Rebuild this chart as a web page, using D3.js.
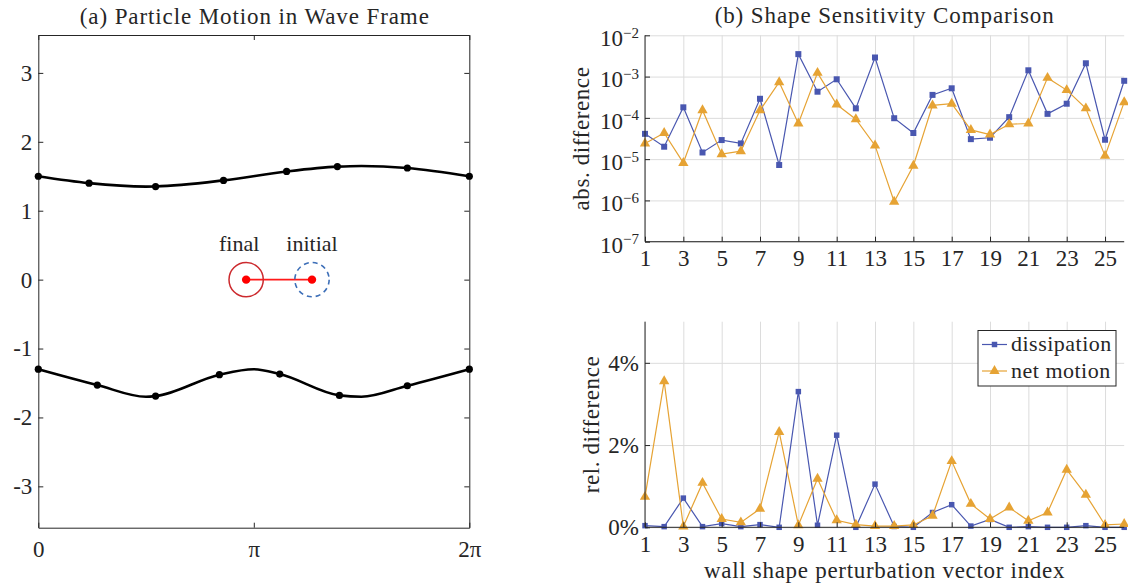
<!DOCTYPE html>
<html>
<head>
<meta charset="utf-8">
<script src="https://cdn.jsdelivr.net/npm/d3@7"></script>
<style>
  body { margin: 0; background: #fff; }
  svg, svg text { font-family: "Liberation Serif", "DejaVu Serif", serif; fill: #262626; }
  .grid line { stroke: #dcdcdc; stroke-width: 1; }
  .grid path { display: none; }
  .ax path, .ax line { stroke: #262626; stroke-width: 1; }
</style>
</head>
<body>
<svg id="fig" width="1128" height="588"></svg>
<script>
// ---- panel (a): walls in the wave frame ----
const TWO_PI = 2 * Math.PI;
const upperWallX = [0, 0.74, 1.57, 1.71, 2.70, 3.62, 4.36, 4.71, 5.38, TWO_PI];
const upperWallY = [1.50, 1.40, 1.35, 1.352, 1.44, 1.57, 1.64, 1.65, 1.62, 1.50];
const upperNodeX = [0, 0.74, 1.71, 2.70, 3.62, 4.36, 5.38, TWO_PI];
const upperNodeY = [1.50, 1.40, 1.35, 1.44, 1.57, 1.64, 1.62, 1.50];
const lowerWallX = [0, 0.86, 1.57, 1.71, 2.64, 3.14, 3.52, 4.39, 4.71, 5.38, TWO_PI];
const lowerWallY = [-1.30, -1.53, -1.70, -1.69, -1.38, -1.30, -1.37, -1.68, -1.70, -1.54, -1.30];
const lowerNodeX = [0, 0.86, 1.71, 2.64, 3.52, 4.39, 5.38, TWO_PI];
const lowerNodeY = [-1.30, -1.53, -1.69, -1.38, -1.37, -1.68, -1.54, -1.30];
const particleNames = ["final", "initial"];
const particleX = [3.03, 3.99];
const particleY = [0, 0];
const particleR = 0.25;
const aYTicks = [-3, -2, -1, 0, 1, 2, 3];
const aXTicks = [0, Math.PI, TWO_PI];
const aXLabels = ["0", "π", "2π"];

// ---- panel (b): sensitivity comparison ----
const vecIndex = d3.range(1, 27);
const dissAbs = [4.1e-5, 2.0e-5, 1.8e-4, 1.45e-5, 2.9e-5, 2.4e-5, 2.9e-4, 7.2e-6, 3.5e-3, 4.3e-4,
                 8.6e-4, 1.7e-4, 2.9e-3, 9.8e-5, 4.3e-5, 3.6e-4, 5.2e-4, 3.05e-5, 3.3e-5, 1.04e-4,
                 1.42e-3, 1.25e-4, 2.2e-4, 2.1e-3, 2.95e-5, 7.9e-4];
const motionAbs = [2.4e-5, 4.3e-5, 8.1e-6, 1.53e-4, 1.32e-5, 1.56e-5, 1.53e-4, 7.3e-4, 7.3e-5, 1.23e-3,
                   2.1e-4, 9.3e-5, 2.15e-5, 9.3e-7, 6.9e-6, 2.0e-4, 2.2e-4, 5.1e-5, 3.95e-5, 7.0e-5,
                   7.3e-5, 9.3e-4, 4.7e-4, 1.7e-4, 1.2e-5, 2.4e-4];
const dissRel = [0.04, 0.016, 0.71, 0.016, 0.09, 0.016, 0.065, 0.0, 3.30, 0.05,
                 2.24, 0.0, 1.05, 0.02, 0.0, 0.36, 0.55, 0.03, 0.19, 0.0,
                 0.016, 0.0, 0.0, 0.04, 0.0, 0.0];
const motionRel = [0.74, 3.55, 0.02, 1.08, 0.20, 0.12, 0.45, 2.32, 0.05, 1.18,
                   0.17, 0.065, 0.03, 0.03, 0.057, 0.28, 1.61, 0.57, 0.20, 0.48,
                   0.16, 0.36, 1.40, 0.79, 0.057, 0.08];
const bXTicks = d3.range(1, 26, 2);
const absTicks = [1e-7, 1e-6, 1e-5, 1e-4, 1e-3, 1e-2];
const relTicks = [0, 2, 4];
const seriesNames = ["dissipation", "net motion"];

const blue = "#4957b0", orange = "#e6a334";
const SERIF = "'Liberation Serif', 'DejaVu Serif', serif";
const svg = d3.select("#fig");

// every text gets the serif face explicitly (axis groups default to sans-serif)
function serif(sel, size) {
  return sel.style("font-family", SERIF).style("font-size", size + "px").style("fill", "#262626");
}
function cleanAxis(g) {
  g.attr("font-family", null).attr("font-size", null);
  serif(g.selectAll(".tick text"), 23);
  return g;
}

// ================= panel (a) =================
const ax = {l: 38.3, r: 469.3, t: 35, b: 527.7};
const xA = d3.scaleLinear().domain([0, TWO_PI]).range([ax.l, ax.r]);
const yA = d3.scaleLinear().domain([-3.6, 3.55]).range([ax.b, ax.t]);

const gA = svg.append("g");
gA.append("g").attr("class", "ax").attr("transform", `translate(${ax.l},0)`)
  .call(d3.axisLeft(yA).tickValues(aYTicks).tickSize(-5).tickSizeOuter(0).tickPadding(6).tickFormat(d => String(d)))
  .call(cleanAxis);
gA.append("g").attr("class", "ax").attr("transform", `translate(${ax.r},0)`)
  .call(d3.axisRight(yA).tickValues(aYTicks).tickSize(-5).tickSizeOuter(0).tickFormat(""));
gA.append("g").attr("class", "ax").attr("transform", `translate(0,${ax.b})`)
  .call(d3.axisBottom(xA).tickValues(aXTicks).tickSize(-5).tickSizeOuter(0).tickPadding(13)
    .tickFormat((d, i) => aXLabels[i]))
  .call(cleanAxis);
gA.append("g").attr("class", "ax").attr("transform", `translate(0,${ax.t})`)
  .call(d3.axisTop(xA).tickValues(aXTicks).tickSize(-5).tickSizeOuter(0).tickFormat(""));

const wallLine = d3.line().x(d => xA(d[0])).y(d => yA(d[1])).curve(d3.curveMonotoneX);
[[upperWallX, upperWallY], [lowerWallX, lowerWallY]].forEach(([xs, ys]) => {
  gA.append("path").datum(xs.map((x, i) => [x, ys[i]]))
    .attr("d", wallLine).attr("fill", "none").attr("stroke", "#000").attr("stroke-width", 2.6);
});
[[upperNodeX, upperNodeY], [lowerNodeX, lowerNodeY]].forEach(([xs, ys]) => {
  gA.selectAll(null).data(xs.map((x, i) => [x, ys[i]])).enter().append("circle")
    .attr("cx", d => xA(d[0])).attr("cy", d => yA(d[1])).attr("r", 3.6).attr("fill", "#000");
});

// particle: final (solid red) and initial (dashed blue)
const rPx = xA(particleR) - xA(0);
gA.append("line")
  .attr("x1", xA(particleX[0])).attr("y1", yA(particleY[0]))
  .attr("x2", xA(particleX[1])).attr("y2", yA(particleY[1]))
  .attr("stroke", "#ff1a1a").attr("stroke-width", 1.8);
gA.append("circle").attr("cx", xA(particleX[0])).attr("cy", yA(particleY[0])).attr("r", rPx)
  .attr("fill", "none").attr("stroke", "#cc2a2e").attr("stroke-width", 1.5);
gA.append("circle").attr("cx", xA(particleX[1])).attr("cy", yA(particleY[1])).attr("r", rPx)
  .attr("fill", "none").attr("stroke", "#3d6fb8").attr("stroke-width", 1.6).attr("stroke-dasharray", "5,4");
gA.selectAll(null).data(particleX).enter().append("circle")
  .attr("cx", d => xA(d)).attr("cy", (d, i) => yA(particleY[i])).attr("r", 4.2).attr("fill", "#ff0000");
serif(gA.selectAll(null).data(particleNames).enter().append("text")
  .attr("x", (d, i) => xA(particleX[i]) - (i === 0 ? 7 : 0))
  .attr("y", yA(0) - 29)
  .attr("text-anchor", "middle").text(d => d), 22);

serif(gA.append("text").attr("x", (ax.l + ax.r) / 2 + 1).attr("y", 24).attr("text-anchor", "middle")
  .text("(a) Particle Motion in Wave Frame"), 23).style("letter-spacing", "0.9px");

// ================= panel (b) =================
const bx = {l: 645, r: 1124.2};
const boxTop = {t: 35.3, b: 241.7};
const boxBot = {t: 321.7, b: 527.3};
const xB = d3.scaleLinear().domain([1, 26]).range([bx.l, bx.r]);
const yTop = d3.scaleLog().domain([1e-7, 1e-2]).range([boxTop.b, boxTop.t]);
const yBot = d3.scaleLinear().domain([0, 5]).range([boxBot.b, boxBot.t]);

function drawPanel(yS, box, yTickVals, series, yLabel, yLabelX, tickLabel) {
  const g = svg.append("g");
  // grid
  g.append("g").attr("class", "grid").attr("transform", `translate(0,${box.b})`)
    .call(d3.axisBottom(xB).tickValues(bXTicks).tickSize(-(box.b - box.t)).tickFormat(""));
  g.append("g").attr("class", "grid").attr("transform", `translate(${bx.l},0)`)
    .call(d3.axisLeft(yS).tickValues(yTickVals).tickSize(-(bx.r - bx.l)).tickFormat(""));
  // series
  const line = d3.line().x((d, i) => xB(vecIndex[i])).y(d => yS(d));
  series.forEach(s => {
    g.append("path").datum(s.values).attr("d", line)
      .attr("fill", "none").attr("stroke", s.color).attr("stroke-width", 1.2);
    g.selectAll(null).data(s.values).enter().append("path")
      .attr("transform", (d, i) => `translate(${xB(vecIndex[i])},${yS(d)})`)
      .attr("d", d3.symbol().type(s.symbol).size(s.size)).attr("fill", s.color);
  });
  // axes
  const xa = g.append("g").attr("class", "ax").attr("transform", `translate(0,${box.b})`)
    .call(d3.axisBottom(xB).tickValues(bXTicks).tickSize(-5).tickSizeOuter(0).tickPadding(8))
    .call(cleanAxis);
  xa.select(".domain").attr("d", `M${bx.l},0H${bx.r}`);
  const ya = g.append("g").attr("class", "ax").attr("transform", `translate(${bx.l},0)`)
    .call(d3.axisLeft(yS).tickValues(yTickVals).tickSize(-5).tickSizeOuter(0).tickPadding(6))
    .call(cleanAxis);
  ya.select(".domain").attr("d", `M0,${box.b}V${box.t}`);
  ya.selectAll(".tick text").each(function (d) { tickLabel(d3.select(this), d); });
  serif(g.append("text")
    .attr("transform", `translate(${yLabelX},${(box.t + box.b) / 2}) rotate(-90)`)
    .attr("text-anchor", "middle").text(yLabel), 23).style("letter-spacing", "0.6px");
  return g;
}

drawPanel(yTop, boxTop, absTicks,
  [{values: dissAbs, color: blue, symbol: d3.symbolSquare, size: 36},
   {values: motionAbs, color: orange, symbol: d3.symbolTriangle, size: 46}],
  "abs. difference", 589,
  (t, d) => {
    t.text(null).attr("dy", "0.45em");
    t.append("tspan").text("10");
    t.append("tspan").attr("dy", "-0.55em").style("font-size", "15px")
      .text("−" + Math.round(-Math.log10(d)));
  });

const gBot = drawPanel(yBot, boxBot, relTicks,
  [{values: dissRel, color: blue, symbol: d3.symbolSquare, size: 30},
   {values: motionRel, color: orange, symbol: d3.symbolTriangle, size: 46}],
  "rel. difference", 599,
  (t, d) => t.text(d + "%"));

serif(svg.append("text").attr("x", (bx.l + bx.r) / 2).attr("y", 23).attr("text-anchor", "middle")
  .text("(b) Shape Sensitivity Comparison"), 23).style("letter-spacing", "0.9px");
serif(svg.append("text").attr("x", (bx.l + bx.r) / 2).attr("y", 578).attr("text-anchor", "middle")
  .text("wall shape perturbation vector index"), 23).style("letter-spacing", "0.7px");

// legend
const lg = gBot.append("g").attr("transform", "translate(978,330.5)");
lg.append("rect").attr("width", 138).attr("height", 55.5)
  .attr("fill", "#fff").attr("stroke", "#262626").attr("stroke-width", 1);
const legendSymbols = [[d3.symbolSquare, 30, blue], [d3.symbolTriangle, 46, orange]];
seriesNames.forEach((name, i) => {
  const yy = 14 + i * 26.5;
  const [sym, sz, col] = legendSymbols[i];
  lg.append("line").attr("x1", 4).attr("x2", 29).attr("y1", yy).attr("y2", yy)
    .attr("stroke", col).attr("stroke-width", 1.2);
  lg.append("path").attr("transform", `translate(16.5,${yy})`)
    .attr("d", d3.symbol().type(sym).size(sz)).attr("fill", col);
  serif(lg.append("text").attr("x", 33).attr("y", yy + 6.5).text(name), 22)
    .style("letter-spacing", "0.5px");
});
</script>
</body>
</html>
